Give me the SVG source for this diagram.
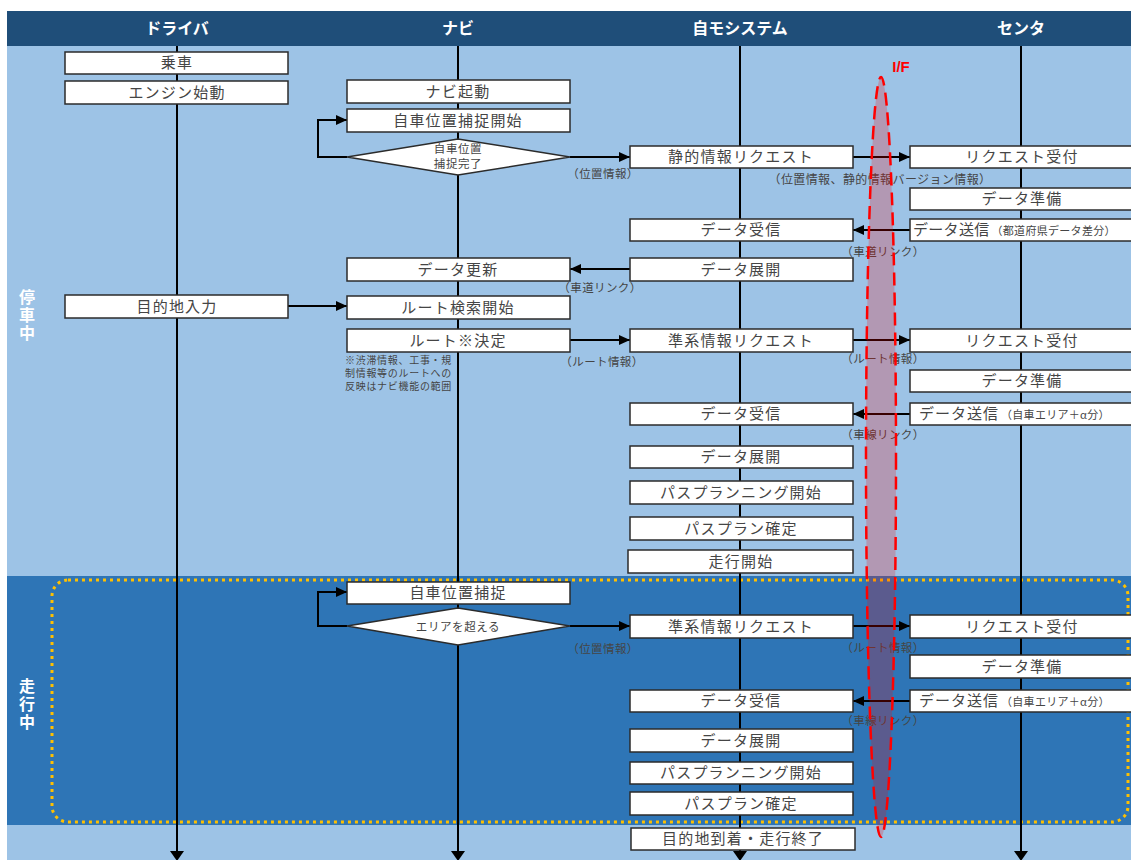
<svg xmlns="http://www.w3.org/2000/svg" width="1131" height="860" viewBox="0 0 1131 860">
  <defs>
    <marker id="arr" markerUnits="userSpaceOnUse" markerWidth="11" markerHeight="10" refX="11" refY="5" orient="auto">
      <path d="M0,0 L11,5 L0,10 z" fill="#000"/>
    </marker>
    <style>
      .hdr{font-family:"Noto Sans CJK JP","Noto Sans",sans-serif;font-weight:bold;font-size:16px;fill:#fff;text-anchor:middle}
      .phase{font-family:"Noto Sans CJK JP",sans-serif;font-weight:bold;font-size:16px;fill:#fff;writing-mode:tb;letter-spacing:2px}
      .box{fill:#fff;stroke:#2b2b2b;stroke-width:1.5}
      .t{font-family:"Noto Sans CJK JP",sans-serif;font-size:15px;fill:#454545;text-anchor:middle;letter-spacing:1.2px}
      .ts{font-family:"Noto Sans CJK JP",sans-serif;font-size:11px;fill:#454545;letter-spacing:0.3px}
      .lbl{font-family:"Noto Sans CJK JP",sans-serif;font-size:11.5px;fill:#454545;text-anchor:middle;letter-spacing:0.4px}
      .note{font-family:"Noto Sans CJK JP",sans-serif;font-size:10px;fill:#454545;letter-spacing:0.7px}
      .dt{font-family:"Noto Sans CJK JP",sans-serif;font-size:11.5px;fill:#454545;text-anchor:middle;letter-spacing:0.6px}
      .life{stroke:#000;stroke-width:2;fill:none}
      .con{stroke:#000;stroke-width:2;fill:none}
    </style>
  </defs>

  <!-- backgrounds -->
  <rect x="0" y="0" width="1131" height="860" fill="#fff"/>
  <rect x="7" y="46" width="1124" height="814" fill="#9DC3E6"/>
  <rect x="7" y="576" width="1124" height="249" fill="#2E75B6"/>
  <rect x="7" y="11" width="1124" height="35" fill="#1F4E79"/>
  <rect x="52" y="580" width="1076" height="242" rx="16" fill="none" stroke="#FFC000" stroke-width="3" stroke-dasharray="3 4"/>

  <!-- lane headers -->
  <g id="headers">
    <text class="hdr" x="177" y="34">ドライバ</text>
    <text class="hdr" x="458" y="34">ナビ</text>
    <text class="hdr" x="740" y="34">自モシステム</text>
    <text class="hdr" x="1021" y="34">センタ</text>
  </g>

  <!-- phase labels -->
  <g id="phase-stop">
    <text class="phase" x="27" y="289">停車中</text>
  </g>
  <g id="phase-run">
    <text class="phase" x="27" y="678">走行中</text>
  </g>

  <!-- lifelines -->
  <g id="lifelines">
    <line class="life" x1="177" y1="46" x2="177" y2="852"/>
    <line class="life" x1="458" y1="46" x2="458" y2="852"/>
    <line class="life" x1="740" y1="46" x2="740" y2="852"/>
    <line class="life" x1="1021" y1="46" x2="1021" y2="852"/>
    <polygon points="170,851 184,851 177,861" fill="#000"/>
    <polygon points="451,851 465,851 458,861" fill="#000"/>
    <polygon points="733,851 747,851 740,861" fill="#000"/>
    <polygon points="1014,851 1028,851 1021,861" fill="#000"/>
  </g>

  <!-- connectors -->
  <g id="connectors">
    <polyline class="con" points="347,157 318,157 318,120 347,120" marker-end="url(#arr)"/>
    <line class="con" x1="570" y1="157" x2="630" y2="157" marker-end="url(#arr)"/>
    <line class="con" x1="853" y1="157" x2="910" y2="157" marker-end="url(#arr)"/>
    <line class="con" x1="910" y1="230" x2="853" y2="230" marker-end="url(#arr)"/>
    <line class="con" x1="630" y1="269" x2="570" y2="269" marker-end="url(#arr)"/>
    <line class="con" x1="288" y1="306" x2="347" y2="306" marker-end="url(#arr)"/>
    <line class="con" x1="570" y1="340" x2="630" y2="340" marker-end="url(#arr)"/>
    <line class="con" x1="853" y1="340" x2="910" y2="340" marker-end="url(#arr)"/>
    <line class="con" x1="910" y1="414" x2="853" y2="414" marker-end="url(#arr)"/>
    <polyline class="con" points="347,626 318,626 318,592 347,592" marker-end="url(#arr)"/>
    <line class="con" x1="570" y1="626" x2="630" y2="626" marker-end="url(#arr)"/>
    <line class="con" x1="853" y1="626" x2="910" y2="626" marker-end="url(#arr)"/>
    <line class="con" x1="910" y1="701" x2="853" y2="701" marker-end="url(#arr)"/>

    <text class="lbl" x="603" y="178">（位置情報）</text>
    <text class="lbl" x="880" y="184" style="font-size:12px">（位置情報、静的情報バージョン情報）</text>
    <text class="lbl" x="883" y="256">（車道リンク）</text>
    <text class="lbl" x="600" y="292">（車道リンク）</text>
    <text class="lbl" x="602" y="366">（ルート情報）</text>
    <text class="lbl" x="883" y="363">（ルート情報）</text>
    <text class="lbl" x="883" y="439">（車線リンク）</text>
    <text class="lbl" x="603" y="653">（位置情報）</text>
    <text class="lbl" x="883" y="652">（ルート情報）</text>
    <text class="lbl" x="883" y="725">（車線リンク）</text>
  </g>

  <!-- driver -->
  <g id="n-ride"><rect class="box" x="65" y="52" width="223" height="22"/><text class="t" x="177" y="68">乗車</text></g>
  <g id="n-engine"><rect class="box" x="65" y="81" width="223" height="23"/><text class="t" x="177" y="98">エンジン始動</text></g>
  <g id="n-dest"><rect class="box" x="65" y="295" width="223" height="23"/><text class="t" x="177" y="312">目的地入力</text></g>

  <!-- navi -->
  <g id="n-navi-start"><rect class="box" x="347" y="80" width="223" height="23"/><text class="t" x="458" y="97">ナビ起動</text></g>
  <g id="n-pos-start"><rect class="box" x="347" y="109" width="223" height="23"/><text class="t" x="458" y="126">自車位置捕捉開始</text></g>
  <g id="n-pos-done">
    <polygon class="box" points="347,157 458,139 570,157 458,175"/>
    <text class="dt" x="458" y="153">自車位置</text>
    <text class="dt" x="458" y="168">捕捉完了</text>
  </g>
  <g id="n-data-update"><rect class="box" x="347" y="258" width="223" height="23"/><text class="t" x="458" y="275">データ更新</text></g>
  <g id="n-route-search"><rect class="box" x="347" y="296" width="223" height="23"/><text class="t" x="458" y="313">ルート検索開始</text></g>
  <g id="n-route-fix">
    <rect class="box" x="347" y="329" width="223" height="23"/><text class="t" x="458" y="346">ルート※決定</text>
    <text class="note" x="345" y="364">※渋滞情報、工事・規</text>
    <text class="note" x="345" y="377">制情報等のルートへの</text>
    <text class="note" x="345" y="390">反映はナビ機能の範囲</text>
  </g>
  <g id="n-pos-track"><rect class="box" x="347" y="582" width="223" height="22"/><text class="t" x="458" y="598">自車位置捕捉</text></g>
  <g id="n-area">
    <polygon class="box" points="347,626 458,608 570,626 458,645"/>
    <text class="dt" x="458" y="631">エリアを超える</text>
  </g>

  <!-- vehicle system -->
  <g id="n-static-req"><rect class="box" x="630" y="146" width="223" height="22"/><text class="t" x="741" y="162">静的情報リクエスト</text></g>
  <g id="n-recv1"><rect class="box" x="630" y="219" width="223" height="22"/><text class="t" x="741" y="235">データ受信</text></g>
  <g id="n-expand1"><rect class="box" x="630" y="258" width="223" height="23"/><text class="t" x="741" y="275">データ展開</text></g>
  <g id="n-quasi-req1"><rect class="box" x="630" y="329" width="223" height="23"/><text class="t" x="741" y="346">準系情報リクエスト</text></g>
  <g id="n-recv2"><rect class="box" x="630" y="403" width="223" height="22"/><text class="t" x="741" y="419">データ受信</text></g>
  <g id="n-expand2"><rect class="box" x="630" y="446" width="223" height="22"/><text class="t" x="741" y="462">データ展開</text></g>
  <g id="n-plan-start1"><rect class="box" x="630" y="481" width="223" height="23"/><text class="t" x="741" y="498">パスプランニング開始</text></g>
  <g id="n-plan-fix1"><rect class="box" x="630" y="517" width="223" height="23"/><text class="t" x="741" y="534">パスプラン確定</text></g>
  <g id="n-drive-start"><rect class="box" x="628" y="550" width="225" height="23"/><text class="t" x="741" y="567">走行開始</text></g>
  <g id="n-quasi-req2"><rect class="box" x="630" y="615" width="223" height="23"/><text class="t" x="741" y="632">準系情報リクエスト</text></g>
  <g id="n-recv3"><rect class="box" x="630" y="690" width="223" height="22"/><text class="t" x="741" y="706">データ受信</text></g>
  <g id="n-expand3"><rect class="box" x="630" y="729" width="223" height="23"/><text class="t" x="741" y="746">データ展開</text></g>
  <g id="n-plan-start2"><rect class="box" x="630" y="762" width="223" height="22"/><text class="t" x="741" y="778">パスプランニング開始</text></g>
  <g id="n-plan-fix2"><rect class="box" x="630" y="792" width="223" height="23"/><text class="t" x="741" y="809">パスプラン確定</text></g>
  <g id="n-arrive"><rect class="box" x="631" y="828" width="224" height="22"/><text class="t" x="743" y="844">目的地到着・走行終了</text></g>

  <!-- center -->
  <g id="n-accept1"><rect class="box" x="910" y="146" width="230" height="22"/><text class="t" x="1022" y="162">リクエスト受付</text></g>
  <g id="n-prep1"><rect class="box" x="910" y="188" width="230" height="22"/><text class="t" x="1022" y="204">データ準備</text></g>
  <g id="n-send1"><rect class="box" x="910" y="219" width="230" height="22"/><text class="t" x="913" y="235" style="text-anchor:start;letter-spacing:0.3px">データ送信<tspan class="ts" dx="2">（都道府県データ差分）</tspan></text></g>
  <g id="n-accept2"><rect class="box" x="910" y="329" width="230" height="23"/><text class="t" x="1022" y="346">リクエスト受付</text></g>
  <g id="n-prep2"><rect class="box" x="910" y="370" width="230" height="22"/><text class="t" x="1022" y="386">データ準備</text></g>
  <g id="n-send2"><rect class="box" x="910" y="403" width="230" height="22"/><text class="t" x="919" y="419" style="text-anchor:start;letter-spacing:1px">データ送信<tspan class="ts" dx="2">（自車エリア＋α分）</tspan></text></g>
  <g id="n-accept3"><rect class="box" x="910" y="615" width="230" height="23"/><text class="t" x="1022" y="632">リクエスト受付</text></g>
  <g id="n-prep3"><rect class="box" x="910" y="655" width="230" height="23"/><text class="t" x="1022" y="672">データ準備</text></g>
  <g id="n-send3"><rect class="box" x="910" y="690" width="230" height="22"/><text class="t" x="919" y="706" style="text-anchor:start;letter-spacing:1px">データ送信<tspan class="ts" dx="2">（自車エリア＋α分）</tspan></text></g>

  <!-- interface boundary -->
  <g id="interface">
    <ellipse cx="881" cy="457" rx="15" ry="380" fill="#FF0000" fill-opacity="0.22" stroke="#FF0000" stroke-width="2.5" stroke-dasharray="13 7"/>
    <text x="901" y="72" font-family="Liberation Sans, sans-serif" font-weight="bold" font-size="15" fill="#FF0000" text-anchor="middle">I/F</text>
  </g>
</svg>
